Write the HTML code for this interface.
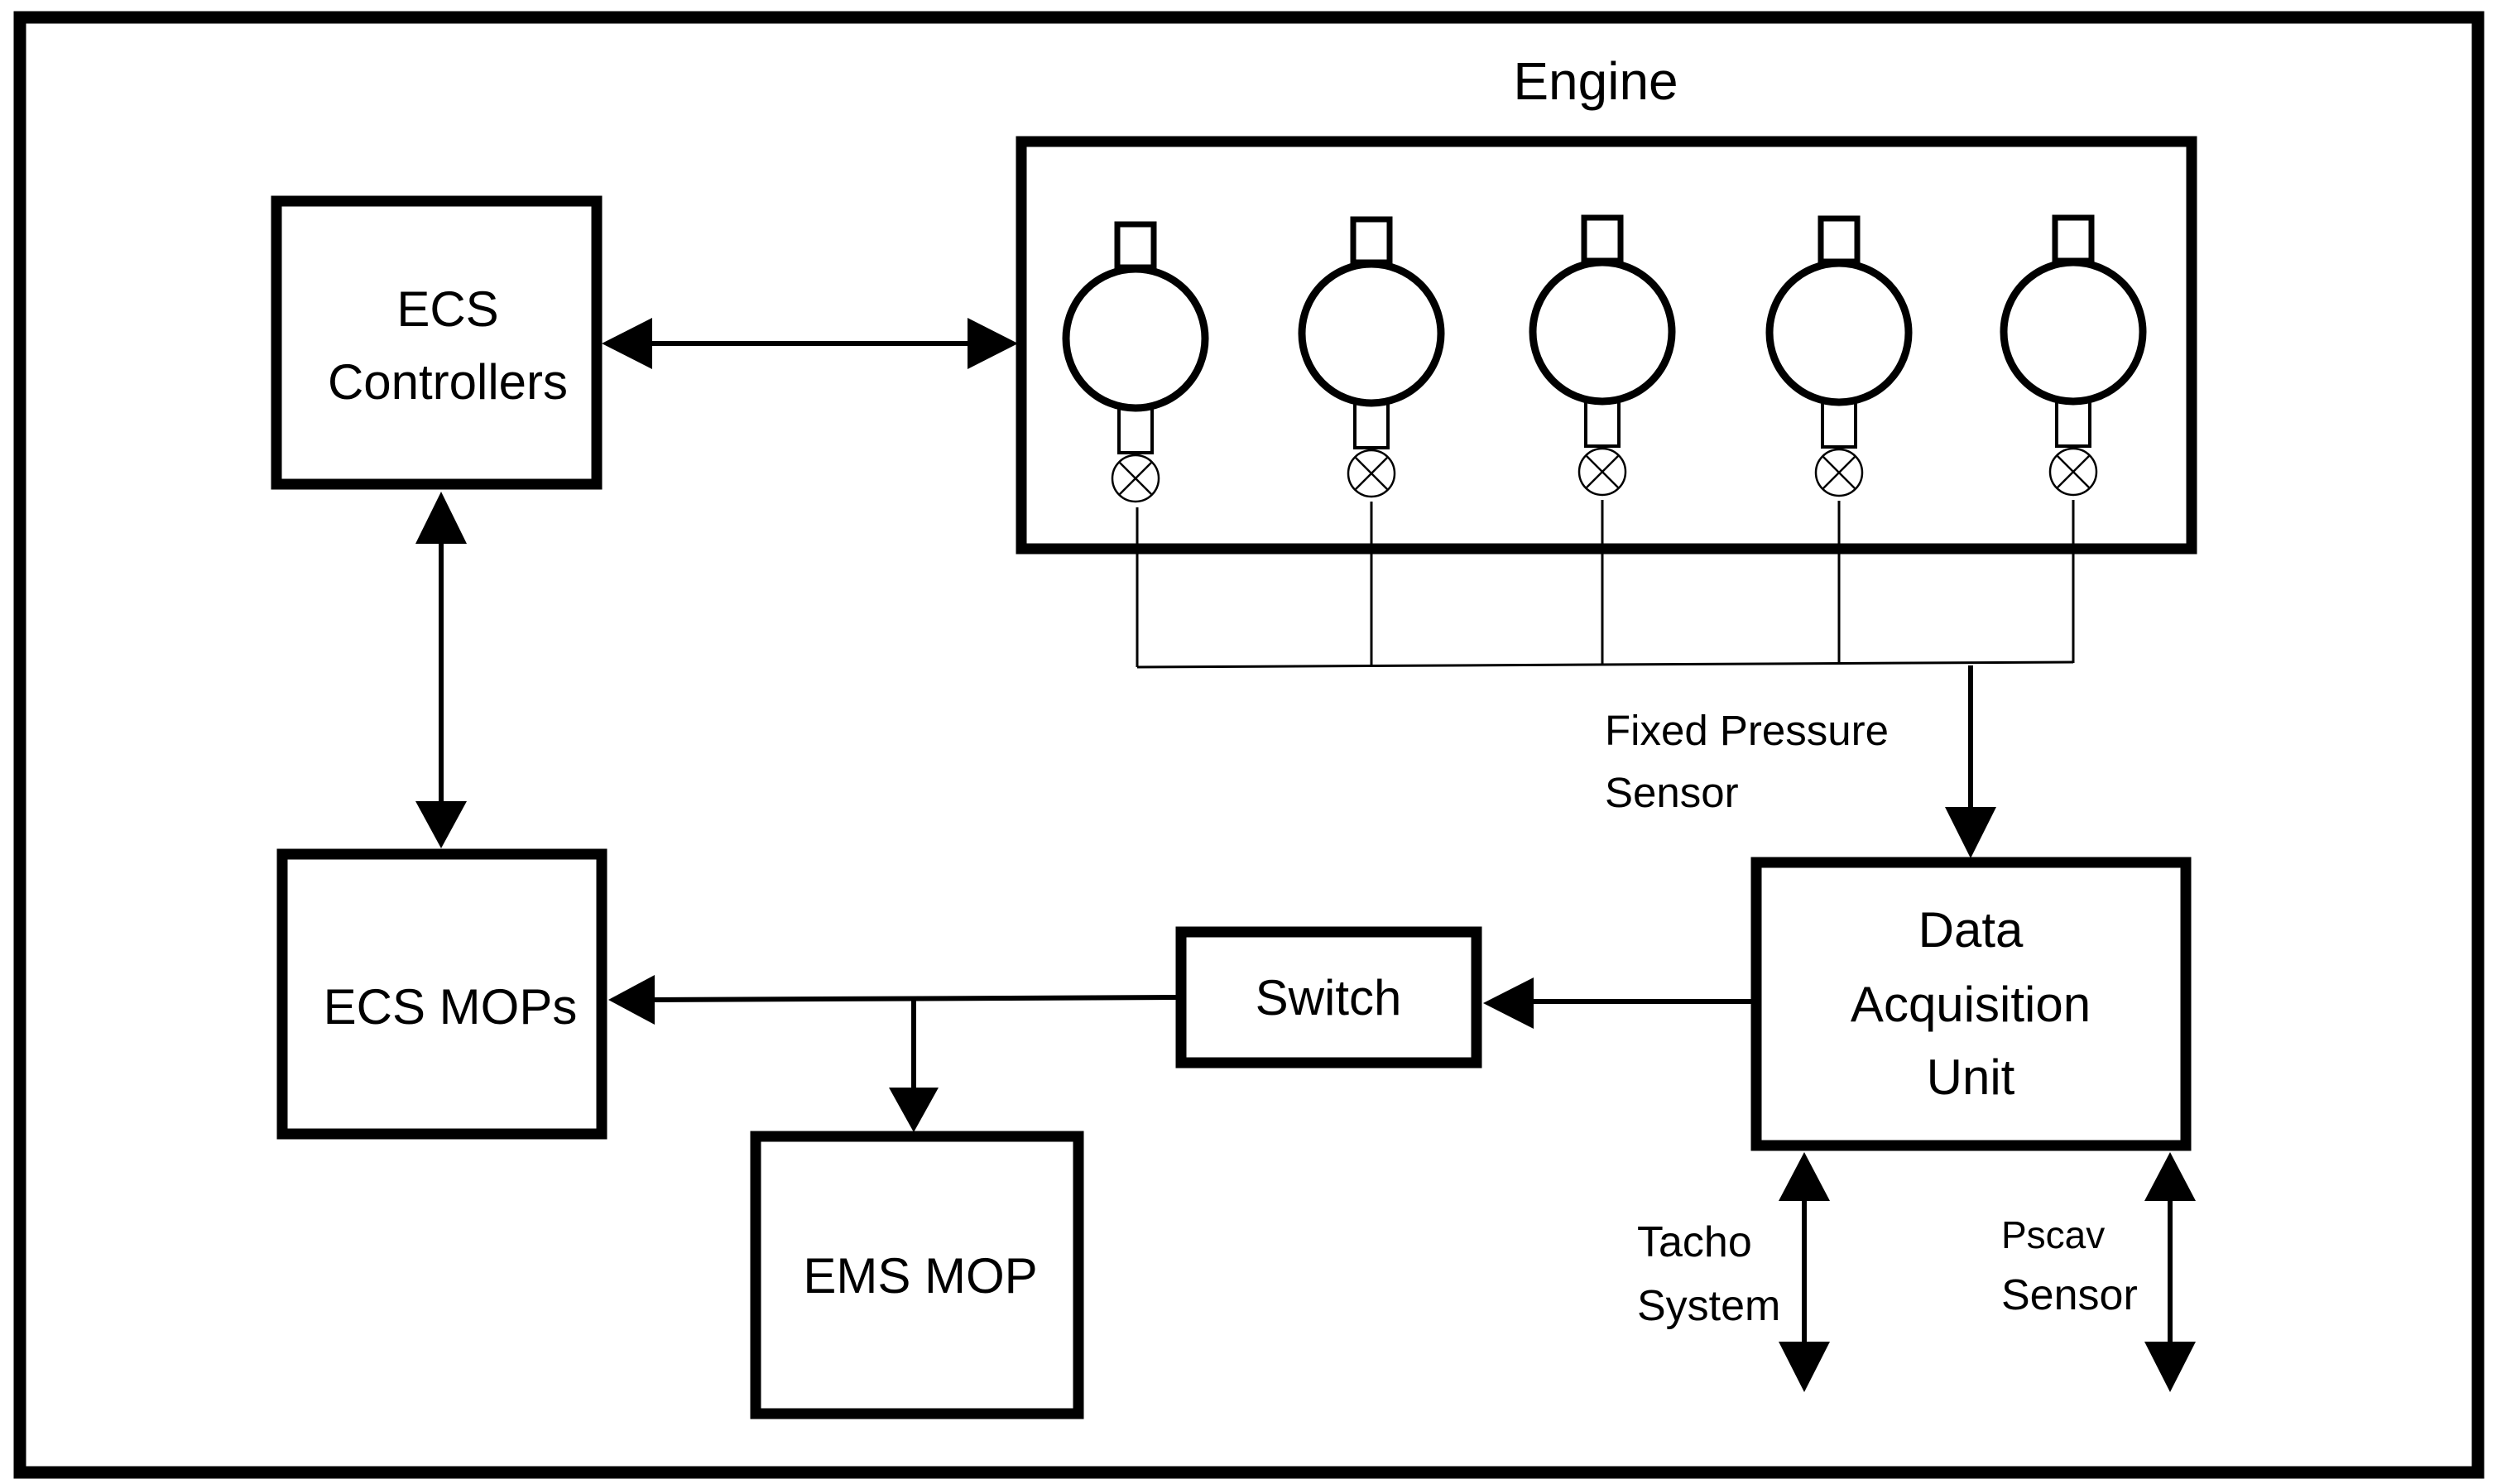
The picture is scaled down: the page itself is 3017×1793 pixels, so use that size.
<!DOCTYPE html>
<html><head><meta charset="utf-8"><style>html,body{margin:0;padding:0;background:#fff}svg{display:block}text{font-family:"Liberation Sans",sans-serif;fill:#000}</style></head><body>
<svg width="3017" height="1793" viewBox="0 0 3017 1793" xmlns="http://www.w3.org/2000/svg">
<rect x="0" y="0" width="3017" height="1793" fill="#fff"/>
<rect x="24" y="21" width="2970" height="1758" fill="none" stroke="#000" stroke-width="15"/>
<g fill="none" stroke="#000" stroke-width="13">
<rect x="334" y="243" width="387" height="342"/>
<rect x="1234" y="171" width="1414" height="492"/>
<rect x="341" y="1032" width="386" height="338"/>
<rect x="1427" y="1126" width="357" height="158"/>
<rect x="913" y="1373" width="390" height="335"/>
<rect x="2122" y="1042" width="519" height="342"/>
</g>
<text x="1928" y="120" font-size="64" text-anchor="middle">Engine</text>
<text x="541" y="394" font-size="60" text-anchor="middle">ECS</text>
<text x="541" y="482" font-size="60" text-anchor="middle">Controllers</text>
<text x="544" y="1237" font-size="60" text-anchor="middle">ECS MOPs</text>
<text x="1605" y="1226" font-size="60" text-anchor="middle">Switch</text>
<text x="1112" y="1562" font-size="60" text-anchor="middle">EMS MOP</text>
<text x="2381" y="1144" font-size="60" text-anchor="middle">Data</text>
<text x="2381" y="1234" font-size="60" text-anchor="middle">Acquisition</text>
<text x="2381" y="1322" font-size="60" text-anchor="middle">Unit</text>
<text x="1939" y="900" font-size="51">Fixed Pressure</text>
<text x="1939" y="975" font-size="51">Sensor</text>
<text x="1978" y="1518" font-size="52">Tacho</text>
<text x="1978" y="1595" font-size="52">System</text>
<text x="2418" y="1508" font-size="46">Pscav</text>
<text x="2418" y="1582" font-size="52">Sensor</text>
<g stroke="#000" stroke-width="6" fill="none">
<line x1="780" y1="415" x2="1175" y2="415"/>
<line x1="533" y1="650" x2="533" y2="975"/>
<line x1="2381" y1="804" x2="2381" y2="985"/>
<line x1="2118" y1="1210" x2="1845" y2="1210"/>
<line x1="1424" y1="1205" x2="785" y2="1208"/>
<line x1="1104" y1="1207" x2="1104" y2="1320"/>
<line x1="2180" y1="1440" x2="2180" y2="1630"/>
<line x1="2622" y1="1440" x2="2622" y2="1630"/>
</g>
<g fill="#000">
<polygon points="727,415 788,384 788,446"/>
<polygon points="1230,415 1169,384 1169,446"/>
<polygon points="533,594 502,657 564,657"/>
<polygon points="533,1025 502,968 564,968"/>
<polygon points="2381,1037 2350,975 2412,975"/>
<polygon points="1792,1212 1853,1181 1853,1243"/>
<polygon points="735,1208 791,1178 791,1238"/>
<polygon points="1104,1368 1074,1314 1134,1314"/>
<polygon points="2180,1392 2149,1451 2211,1451"/>
<polygon points="2180,1682 2149,1621 2211,1621"/>
<polygon points="2622,1392 2591,1451 2653,1451"/>
<polygon points="2622,1682 2591,1621 2653,1621"/>
</g>
<defs>
<g id="cyl">
<rect x="-22" y="-138" width="44" height="52" fill="#fff" stroke="#000" stroke-width="7"/>
<rect x="-20" y="84" width="40" height="54" fill="#fff" stroke="#000" stroke-width="4"/>
<circle cx="0" cy="0" r="84" fill="#fff" stroke="#000" stroke-width="9"/>
<circle cx="0" cy="169" r="28" fill="#fff" stroke="#000" stroke-width="2.5"/>
<line x1="-19" y1="150" x2="19" y2="188" stroke="#000" stroke-width="2.5"/>
<line x1="19" y1="150" x2="-19" y2="188" stroke="#000" stroke-width="2.5"/>
</g>
</defs>
<use href="#cyl" x="1372" y="409"/>
<use href="#cyl" x="1657" y="403"/>
<use href="#cyl" x="1936" y="401"/>
<use href="#cyl" x="2222" y="402"/>
<use href="#cyl" x="2505" y="401"/>
<g stroke="#000" stroke-width="3" fill="none">
<line x1="1374" y1="613" x2="1374" y2="806"/>
<line x1="1657" y1="606" x2="1657" y2="804"/>
<line x1="1936" y1="604" x2="1936" y2="803"/>
<line x1="2222" y1="605" x2="2222" y2="802"/>
<line x1="2505" y1="604" x2="2505" y2="801"/>
<polyline points="1374,806 2505,800"/>
</g>
</svg>
</body></html>
